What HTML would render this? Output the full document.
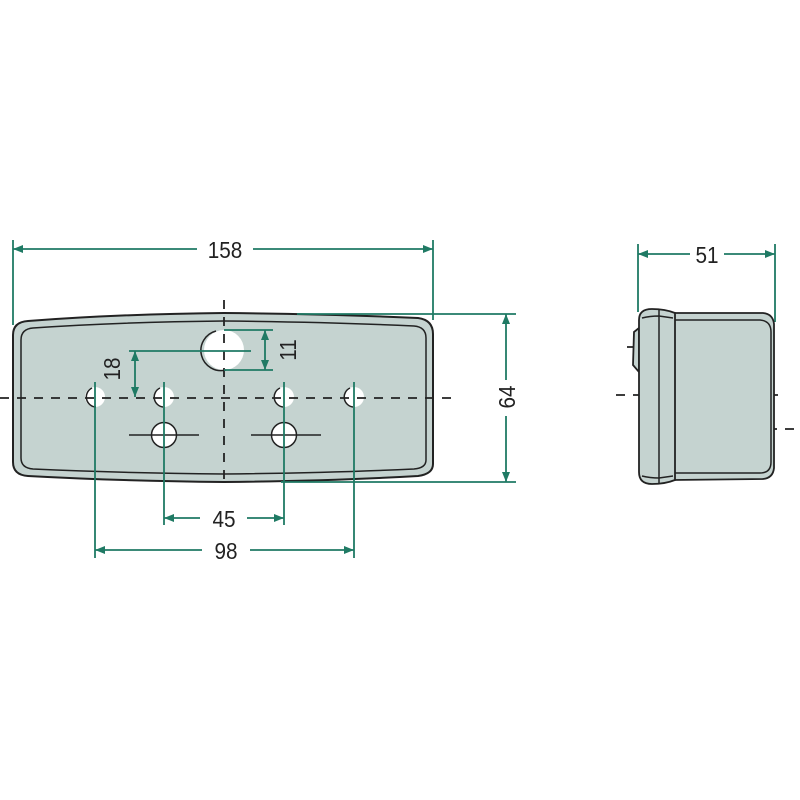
<!DOCTYPE html>
<html><head><meta charset="utf-8"><style>html,body{margin:0;padding:0;background:#fff}svg{display:block}</style></head>
<body>
<svg width="800" height="800" viewBox="0 0 800 800" xmlns="http://www.w3.org/2000/svg">
<defs>
<marker id="a" viewBox="0 0 10 10" refX="10" refY="5" markerWidth="12" markerHeight="10" markerUnits="userSpaceOnUse" orient="auto-start-reverse"><path d="M0,1 L10,5 L0,9 Z" fill="#1f7a64"/></marker>
</defs>
<g font-family="Liberation Sans, sans-serif" font-size="23" fill="#222">
<path d="M13,335 Q13,322 28,321 Q120,314 224,313 Q330,314 418,318 Q433,320 433,334 L433,464 Q433,474 418,476 Q330,481 224,482 Q120,481 28,476 Q13,475 13,462 Z" fill="#c5d3d0" stroke="#222" stroke-width="2"/>
<path d="M21,340 Q21,329 33,328 Q120,322 224,321 Q330,322 414,326 Q426,327 426,338 L426,460 Q426,468 414,469 Q330,473 224,474 Q120,473 33,469 Q21,468 21,458 Z" fill="none" stroke="#222" stroke-width="1.5"/>
<g fill="#fff" stroke="#222" stroke-width="1.5">
<circle cx="224" cy="350" r="20" stroke="none"/>
<circle cx="95" cy="397" r="10" stroke="none"/>
<circle cx="164" cy="397" r="10" stroke="none"/>
<circle cx="284" cy="397" r="10" stroke="none"/>
<circle cx="354" cy="397" r="10" stroke="none"/>
<circle cx="164" cy="435" r="12.5"/>
<circle cx="284" cy="435" r="12.5"/>
</g>
<path d="M216,331 A20,20 0 0 0 226,370 M92,388 A10,10 0 0 0 96,407 M160,388 A10,10 0 0 0 163,407 M280,388 A10,10 0 0 0 283,407 M350,388 A10,10 0 0 0 353,407" fill="none" stroke="#222" stroke-width="1.5"/>
<g stroke="#222" stroke-width="1.5">
<line x1="129" y1="435" x2="199" y2="435"/><line x1="251" y1="435" x2="321" y2="435"/>
</g>
<g stroke="#222" stroke-width="1.8" stroke-dasharray="9,8" fill="none">
<line x1="0" y1="398" x2="458" y2="398"/>
<line x1="224" y1="300" x2="224" y2="485"/>
<line x1="616" y1="395" x2="783" y2="395"/>
<line x1="751" y1="429" x2="800" y2="429"/>
<line x1="627" y1="347" x2="652" y2="347"/>
</g>
<g stroke="#1f7a64" stroke-width="1.8" fill="none">
<line x1="13" y1="240" x2="13" y2="325"/><line x1="433" y1="240" x2="433" y2="320"/>
<line x1="13" y1="249" x2="197" y2="249" marker-start="url(#a)"/><line x1="253" y1="249" x2="433" y2="249" marker-end="url(#a)"/>
<line x1="297" y1="314" x2="516" y2="314"/><line x1="281" y1="482" x2="516" y2="482"/>
<line x1="506" y1="314" x2="506" y2="380" marker-start="url(#a)"/><line x1="506" y1="416" x2="506" y2="482" marker-end="url(#a)"/>
<line x1="224" y1="330" x2="273" y2="330"/><line x1="224" y1="370" x2="273" y2="370"/>
<line x1="265" y1="330" x2="265" y2="370" marker-start="url(#a)" marker-end="url(#a)"/>
<line x1="129" y1="351" x2="251" y2="351"/>
<line x1="135" y1="351" x2="135" y2="397" marker-start="url(#a)" marker-end="url(#a)"/>
<line x1="95" y1="382" x2="95" y2="558"/><line x1="164" y1="382" x2="164" y2="525"/>
<line x1="284" y1="382" x2="284" y2="525"/><line x1="354" y1="382" x2="354" y2="558"/>
<line x1="164" y1="518" x2="200" y2="518" marker-start="url(#a)"/><line x1="247" y1="518" x2="284" y2="518" marker-end="url(#a)"/>
<line x1="95" y1="550" x2="202" y2="550" marker-start="url(#a)"/><line x1="250" y1="550" x2="354" y2="550" marker-end="url(#a)"/>
<line x1="638" y1="244" x2="638" y2="312"/><line x1="775" y1="244" x2="775" y2="322"/>
<line x1="638" y1="254" x2="690" y2="254" marker-start="url(#a)"/><line x1="724" y1="254" x2="775" y2="254" marker-end="url(#a)"/>
</g>
<text transform="translate(225,258) scale(0.9,1)" text-anchor="middle">158</text>
<text transform="translate(224,527) scale(0.9,1)" text-anchor="middle">45</text>
<text transform="translate(226,559) scale(0.9,1)" text-anchor="middle">98</text>
<text transform="translate(707,263) scale(0.9,1)" text-anchor="middle">51</text>
<text transform="translate(515,397) rotate(-90) scale(0.9,1)" text-anchor="middle">64</text>
<text transform="translate(296,350) rotate(-90) scale(0.9,1)" text-anchor="middle">11</text>
<text transform="translate(120,369) rotate(-90) scale(0.9,1)" text-anchor="middle">18</text>
<g fill="#c5d3d0" stroke="#222" stroke-width="1.8">
<path d="M639,328 L634,332 L633,365 L639,372 Z"/>
<path d="M673,313 L763,313 Q773,314 774,324 L774,468 Q773,478 763,479 L673,480 Z"/>
<path d="M639,320 Q639,309 652,309 Q665,309 675,313 L675,480 Q665,484 652,484 Q639,484 639,472 Z"/>
</g>
<g stroke="#222" stroke-width="1.5" fill="none">
<line x1="659" y1="310" x2="659" y2="483"/>
<path d="M642,318 Q650,316 659,316 L673,318"/>
<path d="M642,476 Q650,478 659,478 L673,476"/>
<path d="M675,320 L760,320 Q771,321 771,332 L771,462 Q771,473 760,473 L675,473"/>
</g>
</g>
</svg>
</body></html>
